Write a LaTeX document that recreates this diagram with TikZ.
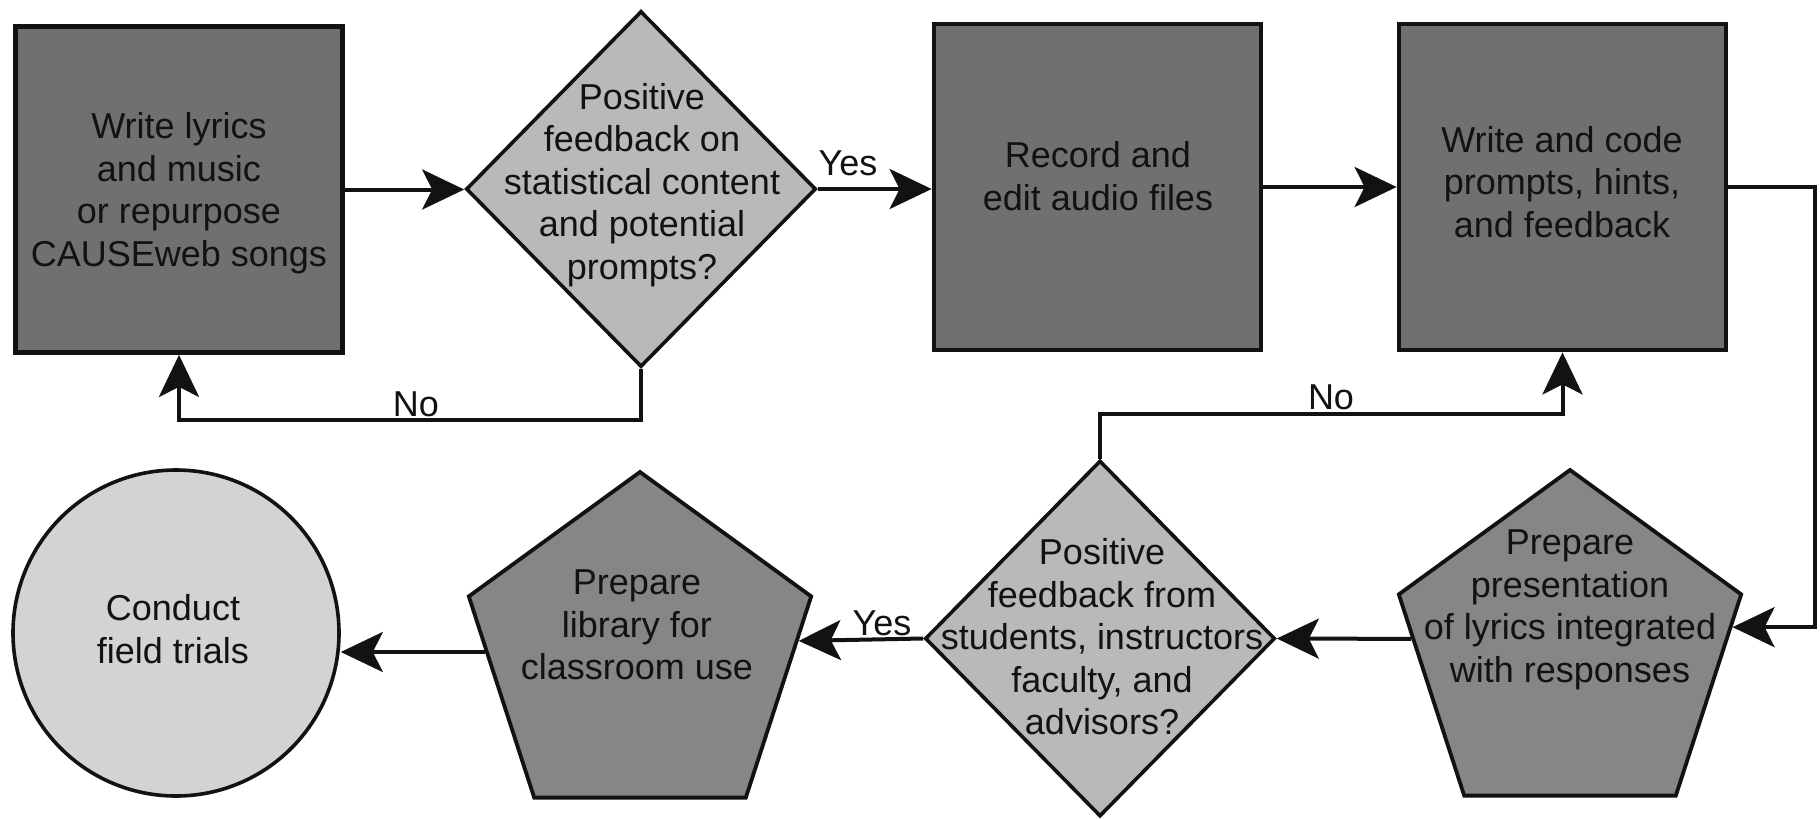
\documentclass[tikz,border=0pt]{standalone}
\usepackage{fontspec}
\setmainfont{Liberation Sans}
\usetikzlibrary{shapes.geometric,arrows.meta}
\definecolor{taskgray}{RGB}{112,112,112}
\definecolor{prepgray}{RGB}{134,134,134}
\definecolor{querygray}{RGB}{185,185,185}
\definecolor{endgray}{RGB}{211,211,211}
\definecolor{ink}{RGB}{18,18,18}
\begin{document}
\begin{tikzpicture}[x=0.5pt,y=-0.5pt,
  txt/.style={inner sep=0pt, font=\fontsize{18pt}{21.25pt}\selectfont, align=center, text=ink},
  task/.style={rectangle, draw=ink, line width=2.4pt, fill=taskgray, inner sep=0pt,
               minimum width=163.5pt, minimum height=163pt},
  query/.style={diamond, draw=ink, line width=1.8pt, fill=querygray, inner sep=0pt,
                minimum width=175pt, minimum height=178pt},
  prep/.style={regular polygon, regular polygon sides=5, draw=ink, line width=1.9pt,
               fill=prepgray, inner sep=0pt, minimum size=180pt},
  finish/.style={circle, draw=ink, line width=1.8pt, fill=endgray, inner sep=0pt,
                 minimum size=163pt},
  link/.style={draw=ink, line width=2pt, -{Stealth[length=21pt,width=20pt,inset=5pt]}},
]
\fill[white] (0,0) rectangle (1820,819);
\useasboundingbox (0,0) rectangle (1820,819);

% shapes
\node[task]   (b1) at (179,189.5) {};
\node[query]  (d1) at (641,189) {};
\node[task]   (b2) at (1097.5,187) {};
\node[task]   (b3) at (1562.5,187) {};
\node[prep]   (p2) at (1570,650) {};
\node[query]  (d2) at (1100,638.5) {};
\node[prep]   (p1) at (640,652) {};
\node[finish] (c1) at (176,633) {};

% texts
\node[txt] (t1) at (179,193) {Write lyrics\\and music\\or repurpose\\CAUSEweb songs};
\node[txt] (t2) at (642,185) {Positive\\feedback on\\statistical content\\and potential\\prompts?};
\node[txt] (t3) at (1098,176) {Record and\\edit audio files};
\node[txt] (t4) at (1562,182) {Write and code\\prompts, hints,\\and feedback};
\node[txt] (t5) at (1570,610) {Prepare\\presentation\\of lyrics integrated\\with responses};
\node[txt] (t6) at (1102,637) {Positive\\feedback from\\students, instructors\\faculty, and\\advisors?};
\node[txt] (t7) at (637,625) {Prepare\\library for\\classroom use};
\node[txt] (t8) at (173,629) {Conduct\\field trials};

% routing points
\coordinate (rt) at (1815,187);
\coordinate (n1) at (179,420);
\coordinate (n2) at (1562.5,414);

% connectors
\draw[link] (b1.east) -- (b1.east -| d1.west);
\draw[link] (d1.east) -- (d1.east -| b2.west);
\draw[link] (b2.east) -- (b3.west);
\draw[link] (b3.east) -- (rt) |- (p2.8);
\draw[link] (p2.176) -- (d2.east);
\draw[link] (d2.west) -- (p1.4);
\draw[link] (p1.west) -- (p1.west -| c1.east);
\draw[link] (d1.south) |- (n1) -- (b1.south);
\draw[link] (d2.north) |- (n2) -- (b3.south);

% branch labels
\node[txt] (yes1) at (848,163) {Yes};
\node[txt] (no1) at (416,404) {No};
\node[txt] (no2) at (1331,397) {No};
\node[txt] (yes2) at (882,623) {Yes};
\end{tikzpicture}
\end{document}
